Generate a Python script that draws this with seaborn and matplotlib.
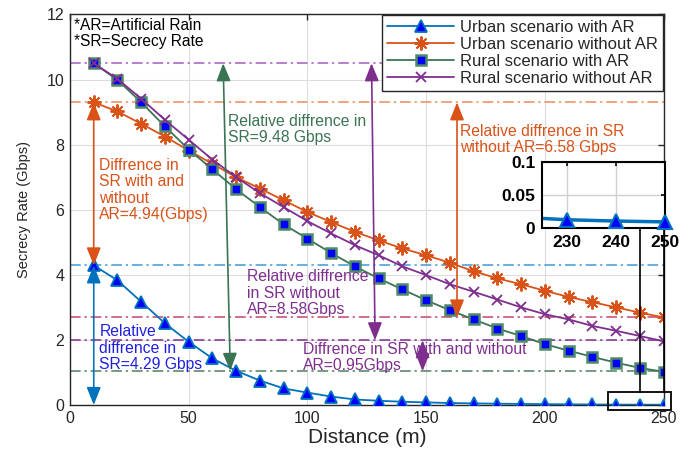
import numpy as np
import pandas as pd
import matplotlib
matplotlib.use("Agg")
import matplotlib.pyplot as plt
import seaborn as sns

# ---- data ----
distance = [10, 20, 30, 40, 50, 60, 70, 80, 90, 100, 110, 120, 130,
            140, 150, 160, 170, 180, 190, 200, 210, 220, 230, 240, 250]
urban_ar = [4.29, 3.83, 3.17, 2.51, 1.94, 1.43, 1.05, 0.75, 0.51, 0.38, 0.26, 0.17, 0.13,
            0.10, 0.08, 0.06, 0.05, 0.04, 0.033, 0.026, 0.021, 0.016, 0.012, 0.010, 0.0087]
urban_noar = [9.30, 9.02, 8.64, 8.25, 7.82, 7.41, 7.00, 6.65, 6.29, 5.93, 5.62, 5.32, 5.06,
              4.81, 4.60, 4.37, 4.11, 3.89, 3.71, 3.51, 3.32, 3.16, 3.00, 2.84, 2.69]
rural_ar = [10.50, 9.99, 9.30, 8.56, 7.85, 7.24, 6.63, 6.08, 5.55, 5.11, 4.67, 4.26, 3.89,
            3.55, 3.22, 2.91, 2.63, 2.35, 2.12, 1.87, 1.67, 1.48, 1.30, 1.14, 1.02]
rural_noar = [10.50, 10.02, 9.41, 8.76, 8.15, 7.54, 7.00, 6.51, 6.08, 5.65, 5.27, 4.91, 4.60,
              4.26, 3.99, 3.71, 3.48, 3.24, 3.00, 2.79, 2.63, 2.43, 2.28, 2.12, 1.96]

labels = ["Urban scenario with AR", "Urban scenario without AR",
          "Rural scenario with AR", "Rural scenario without AR"]

# reference levels (dash-dot lines)
ref_levels = [10.5, 9.3, 4.29, 2.69, 1.99, 1.04]
ref_colors = ["#A65BC0", "#F08A5D", "#3C9AD6", "#C4466A", "#7E2F8E", "#4F7F60"]

inset_xticks = [230, 240, 250]
inset_yticks = [0, 0.05, 0.1]

df = pd.DataFrame({"distance": distance, "urban_ar": urban_ar, "urban_noar": urban_noar,
                   "rural_ar": rural_ar, "rural_noar": rural_noar})

BLUE = "#0072BD"
ORANGE = "#D95319"
GREEN = "#3B7455"
PURPLE = "#7E2F8E"

sns.set_theme(style="whitegrid")
plt.rcParams["font.family"] = ["Liberation Sans", "DejaVu Sans"]
plt.rcParams["xtick.direction"] = "in"
plt.rcParams["ytick.direction"] = "in"

fig = plt.figure(figsize=(6.91, 4.57), dpi=100)
ax = fig.add_axes([0.1013, 0.1138, 0.859, 0.8545])

# dash-dot reference lines
ls_dd = (0, (7, 2.5, 1.5, 2.5))
for lev, col in zip(ref_levels, ref_colors):
    ax.hlines(lev, 0, 250, colors=col, linestyles=[ls_dd], lw=1.1, zorder=1.5)

# series
sns.lineplot(data=df, x="distance", y="urban_ar", ax=ax, color=BLUE, lw=1.3,
             marker="^", markersize=8, markerfacecolor="#0000FF", markeredgecolor=BLUE,
             markeredgewidth=1.3, label=labels[0], zorder=3)
sns.lineplot(data=df, x="distance", y="urban_noar", ax=ax, color=ORANGE, lw=1.3,
             marker=(8, 2, 0), markersize=10, markeredgecolor=ORANGE, markeredgewidth=1.4,
             label=labels[1], zorder=3)
sns.lineplot(data=df, x="distance", y="rural_ar", ax=ax, color=GREEN, lw=1.3,
             marker="s", markersize=6.5, markerfacecolor="#0000FF", markeredgecolor="#4E8A68",
             markeredgewidth=1.8, label=labels[2], zorder=3)
sns.lineplot(data=df, x="distance", y="rural_noar", ax=ax, color=PURPLE, lw=1.3,
             marker="x", markersize=7, markeredgecolor=PURPLE, markeredgewidth=1.3,
             label=labels[3], zorder=3)

ax.set_xlim(0, 250)
ax.set_ylim(0, 12)
ax.set_xticks([0, 50, 100, 150, 200, 250])
ax.set_yticks([0, 2, 4, 6, 8, 10, 12])
ax.set_xlabel("Distance (m)", fontsize=15, color="#262626", labelpad=2)
ax.set_ylabel("Secrecy Rate (Gbps)", fontsize=10.5, color="#262626", labelpad=11)
ax.tick_params(axis="both", labelsize=11.5, colors="#262626", length=4, width=1,
               top=True, right=True, pad=4)
ax.grid(True, color="#DCDCDC", lw=0.8)
for sp in ax.spines.values():
    sp.set_color("#262626")
    sp.set_linewidth(1.0)

leg = ax.legend(loc="upper right", bbox_to_anchor=(1.0, 1.0), borderaxespad=0.05,
                fontsize=12, fancybox=False, framealpha=1, edgecolor="#262626",
                handlelength=4.0, labelspacing=0.12, borderpad=0.3, handletextpad=0.35)
leg.get_frame().set_linewidth(1.0)

ax.text(0.006, 0.99, "*AR=Artificial Rain\n*SR=Secrecy Rate", transform=ax.transAxes,
        ha="left", va="top", fontsize=11.2, color="black", linespacing=1.02)

# double-headed arrows
def darrow(x0, y0, x1, y1, color):
    ax.annotate("", xy=(x1, y1), xytext=(x0, y0),
                arrowprops=dict(arrowstyle="<|-|>,head_length=0.6,head_width=0.24",
                                color=color, lw=1.2, shrinkA=0, shrinkB=0,
                                mutation_scale=18), zorder=4)

darrow(10, 0, 10, 4.29, BLUE)
darrow(10, 4.29, 10, 9.3, ORANGE)
darrow(64.5, 10.5, 67.5, 1.05, GREEN)
darrow(127, 10.5, 128.5, 1.99, PURPLE)
darrow(148.5, 1.99, 148.5, 1.04, PURPLE)
darrow(163, 9.3, 163, 2.69, ORANGE)

tkw = dict(ha="left", va="center", fontsize=11.3, linespacing=1.12)
ax.text(66.7, 8.47, "Relative diffrence in\nSR=9.48 Gbps", color=GREEN, **tkw)
ax.text(12.4, 6.6, "Diffrence in\nSR with and\nwithout\nAR=4.94(Gbps)", color=ORANGE, **tkw)
ax.text(74.5, 3.44, "Relative diffrence\nin SR without\nAR=8.58Gbps", color=PURPLE, **tkw)
ax.text(12.4, 1.75, "Relative\ndiffrence in\nSR=4.29 Gbps", color="#2020E0", **tkw)
ax.text(98.1, 1.46, "Diffrence in SR with and without\nAR=0.95Gbps", color=PURPLE, **tkw)
ax.text(164.1, 8.15, "Relative diffrence in SR\nwithout AR=6.58 Gbps", color=ORANGE, **tkw)

# zoom box and connectors
ax.add_patch(plt.Rectangle((226.5, -0.15), 26.5, 0.56, fill=False, ec="black",
                           lw=1.3, clip_on=False, zorder=5))
ax.plot([240, 240], [0.41, 5.47], color="black", lw=1.2, clip_on=False, zorder=5)
ax.plot([250, 250], [0.41, 5.47], color="black", lw=1.2, clip_on=False, zorder=5)

# inset
axin = fig.add_axes([0.785, 0.502, 0.177, 0.143])
sns.lineplot(data=df, x="distance", y="urban_ar", ax=axin, color=BLUE, lw=2.5,
             legend=False)
tail = df[df["distance"].isin(inset_xticks)]
sns.lineplot(data=tail, x="distance", y="urban_ar", ax=axin, color=BLUE, lw=0,
             marker="^", markersize=10, markerfacecolor="#0000FF", markeredgecolor=BLUE,
             markeredgewidth=1.5, legend=False, clip_on=False, zorder=4)
axin.set_xlim(225, 250)
axin.set_ylim(0, 0.1)
axin.set_xticks(inset_xticks)
axin.set_yticks(inset_yticks)
axin.set_yticklabels(["0", "0.05", "0.1"])
axin.set_xlabel("")
axin.set_ylabel("")
axin.tick_params(axis="both", labelsize=12.5, colors="black", length=3, width=1.2,
                 top=True, right=True, pad=5)
for lab in axin.get_xticklabels() + axin.get_yticklabels():
    lab.set_fontweight("bold")
axin.grid(True, color="#D0D0D0", lw=1.0)
axin.set_facecolor("white")
for sp in axin.spines.values():
    sp.set_color("black")
    sp.set_linewidth(1.5)

fig.savefig("out.png", dpi=100)
